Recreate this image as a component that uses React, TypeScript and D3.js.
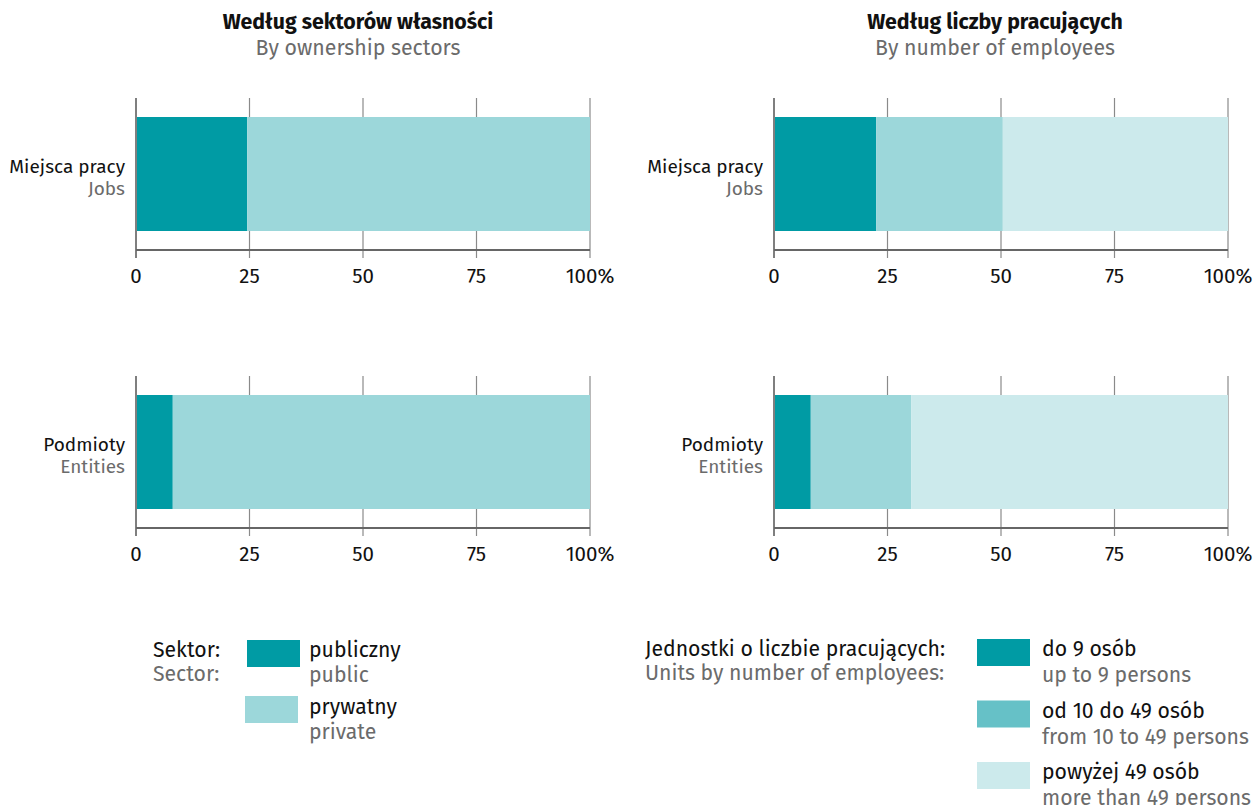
import React from "react";
import * as d3 from "d3";

const rowsPL = ["Miejsca pracy", "Podmioty"];
const rowsEN = ["Jobs", "Entities"];

const sectorKeys = ["public", "private"];
const sectorPublic = [24.5, 8.1];
const sectorPrivate = [75.5, 91.9];

const sizeKeys = ["small", "medium", "large"];
const sizeSmall = [22.5, 8.1];
const sizeMedium = [27.9, 22.1];
const sizeLarge = [49.6, 69.8];

const ticks = [0, 25, 50, 75, 100];

const C_DARK = "#009BA4";
const C_MID = "#9CD7DA";
const C_LIGHT = "#CCEAEC";
const C_LEG_MID = "#66C1C7";

const FONT = "'Fira Sans', 'Noto Sans', 'Open Sans', sans-serif";
const GRAY = "#6b6b6b";

type Panel = {
  x0: number;
  values: number[][];
  colors: string[];
};

function Bars({ x0, values, colors, rowTops }: Panel & { rowTops: number[] }) {
  const x = d3.scaleLinear().domain([0, 100]).range([x0, x0 + 454]);
  return (
    <g>
      {values.map((segs, ri) => {
        const top = rowTops[ri];
        const y = d3.scaleBand().domain(["a"]).range([top + 19, top + 133]);
        const stack = d3.cumsum(segs);
        return (
          <g key={ri}>
            {ticks.map((t) => (
              <line
                key={t}
                x1={x(t)}
                x2={x(t)}
                y1={top}
                y2={top + 160}
                stroke={t === 0 ? "#555" : "#8a8a8a"}
                strokeWidth={t === 0 ? 1.5 : 1.2}
              />
            ))}
            {segs.map((v, si) => {
              const start = si === 0 ? 0 : stack[si - 1];
              return (
                <rect
                  key={si}
                  x={x(start) + (si === 0 ? 1 : 0)}
                  y={y("a")}
                  width={x(start + v) - x(start) - (si === 0 ? 1 : 0)}
                  height={y.bandwidth()}
                  fill={colors[si]}
                />
              );
            })}
            <line x1={x(0)} x2={x(100)} y1={top + 152} y2={top + 152} stroke="#666" strokeWidth={2} />
            {ticks.map((t) => (
              <text
                key={"l" + t}
                x={x(t)}
                y={top + 185}
                textAnchor="middle"
                fontSize={20.5}
                fill="#111"
                fontFamily={FONT}
              >
                {t === 100 ? "100%" : String(t)}
              </text>
            ))}
            <text x={x0 - 11} y={top + 75} textAnchor="end" fontSize={19} fill="#111" fontFamily={FONT}>
              {rowsPL[ri]}
            </text>
            <text x={x0 - 11} y={top + 97} textAnchor="end" fontSize={19} fill={GRAY} fontFamily={FONT}>
              {rowsEN[ri]}
            </text>
          </g>
        );
      })}
    </g>
  );
}

export default function App() {
  const rowTops = [98, 376];
  const leftVals = rowsPL.map((_, i) => [sectorPublic[i], sectorPrivate[i]]);
  const rightVals = rowsPL.map((_, i) => [sizeSmall[i], sizeMedium[i], sizeLarge[i]]);

  const sectorLegend = [
    { pl: "publiczny", en: "public", c: C_DARK, key: sectorKeys[0] },
    { pl: "prywatny", en: "private", c: C_MID, key: sectorKeys[1] },
  ];
  const sizeLegend = [
    { pl: "do 9 osób", en: "up to 9 persons", c: C_DARK, key: sizeKeys[0] },
    { pl: "od 10 do 49 osób", en: "from 10 to 49 persons", c: C_LEG_MID, key: sizeKeys[1] },
    { pl: "powyżej 49 osób", en: "more than 49 persons", c: C_LIGHT, key: sizeKeys[2] },
  ];

  return (
    <svg
      width={1257}
      height={805}
      style={{ position: "absolute", left: 0, top: 0, background: "#fff" }}
      fontFamily={FONT}
    >
      <text x={358} y={29} textAnchor="middle" fontSize={21.3} fontWeight="bold" fill="#111">
        Według sektorów własności
      </text>
      <text x={358} y={55} textAnchor="middle" fontSize={21.3} fill={GRAY}>
        By ownership sectors
      </text>
      <text x={995} y={29} textAnchor="middle" fontSize={21.3} fontWeight="bold" fill="#111">
        Według liczby pracujących
      </text>
      <text x={995} y={55} textAnchor="middle" fontSize={21.3} fill={GRAY}>
        By number of employees
      </text>

      <Bars x0={136} values={leftVals} colors={[C_DARK, C_MID]} rowTops={rowTops} />
      <Bars x0={774} values={rightVals} colors={[C_DARK, C_MID, C_LIGHT]} rowTops={rowTops} />

      {/* left legend */}
      <text x={153} y={657} fontSize={21.2} fill="#111">Sektor:</text>
      <text x={153} y={681} fontSize={21.2} fill={GRAY}>Sector:</text>
      {sectorLegend.map((d, i) => (
        <g key={d.key}>
          <rect x={247 - i * 2} y={640 + i * 56} width={53} height={27} fill={d.c} />
          <text x={309} y={657 + i * 57} fontSize={21.2} fill="#111">{d.pl}</text>
          <text x={309} y={682 + i * 57} fontSize={21.2} fill={GRAY}>{d.en}</text>
        </g>
      ))}

      {/* right legend */}
      <text x={645} y={656} fontSize={21.2} fill="#111">Jednostki o liczbie pracujących:</text>
      <text x={645} y={680} fontSize={21.2} fill={GRAY}>Units by number of employees:</text>
      {sizeLegend.map((d, i) => (
        <g key={d.key}>
          <rect x={977} y={639 + i * 61.5} width={53} height={27} fill={d.c} />
          <text x={1042} y={656 + i * 61.5} fontSize={21.2} fill="#111">{d.pl}</text>
          <text x={1042} y={682 + i * 61.5} fontSize={21.2} fill={GRAY}>{d.en}</text>
        </g>
      ))}
    </svg>
  );
}
